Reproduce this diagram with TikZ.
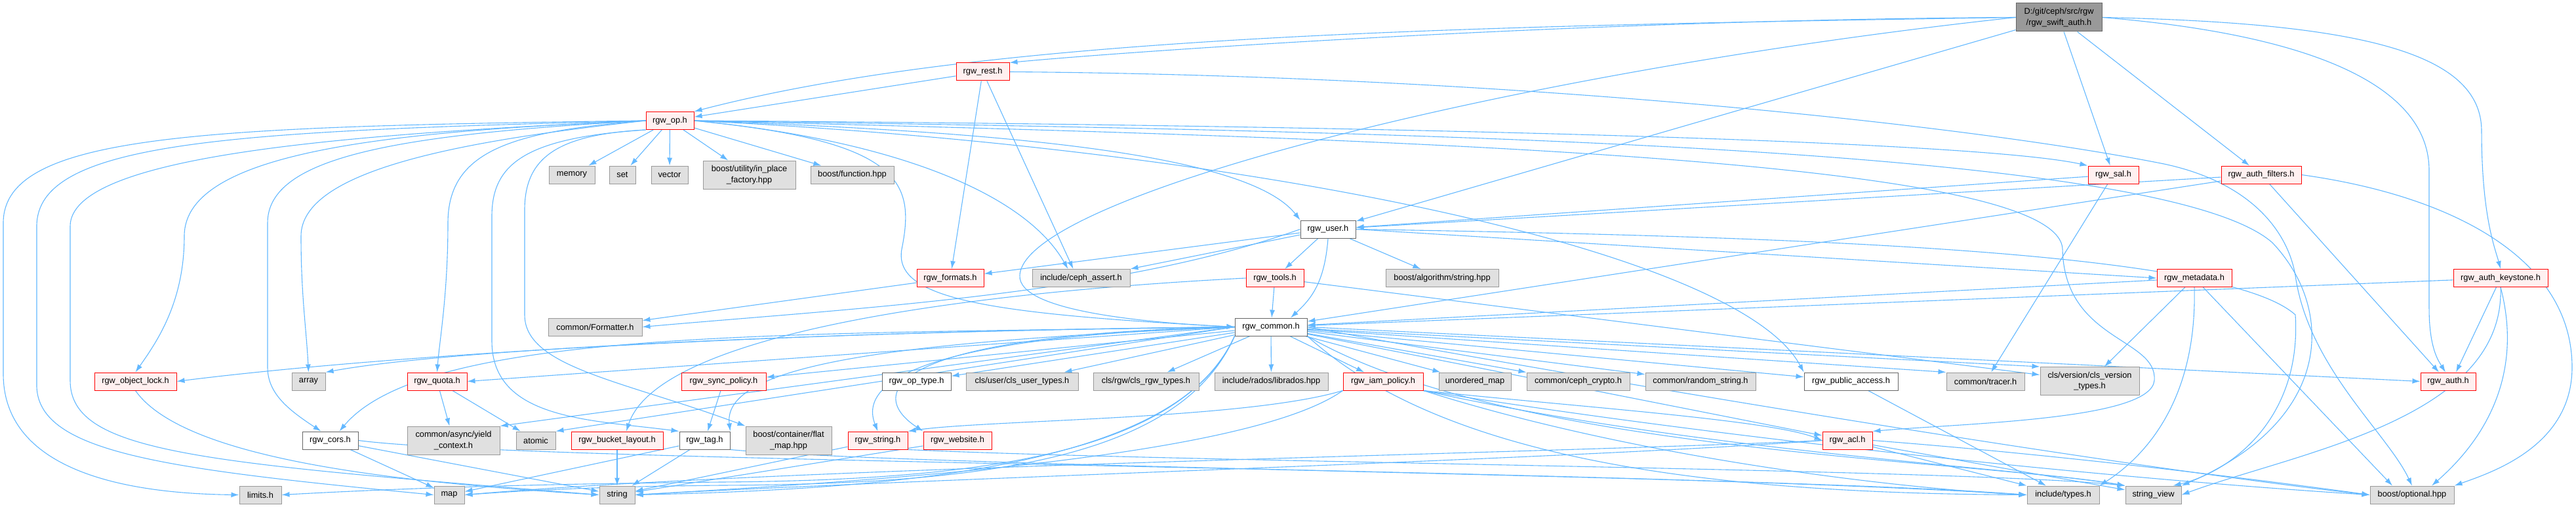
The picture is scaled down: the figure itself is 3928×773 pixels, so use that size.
\documentclass[tikz,border=0pt]{standalone}
\usepackage{fontspec}
\setmainfont{Liberation Sans}
\usepackage{tikz}
\usetikzlibrary{arrows.meta}
\definecolor{depline}{HTML}{63B8FF}
\definecolor{truncfill}{HTML}{FFF0F0}
\definecolor{sysfill}{HTML}{E0E0E0}
\definecolor{sysline}{HTML}{999999}
\definecolor{plainline}{HTML}{666666}
\definecolor{rootfill}{HTML}{999999}
\pgfdeclarelayer{bg}
\pgfsetlayers{bg,main}
\tikzset{
  hdr/.style={rectangle, line width=1pt, align=center, inner sep=0pt,
              font=\fontsize{12.8}{16.5}\selectfont, minimum height=27pt, minimum width=#1},
  redhdr/.style={hdr=#1, draw=red, fill=truncfill},
  sysinc/.style={hdr=#1, draw=sysline, fill=sysfill},
  plainhdr/.style={hdr=#1, draw=plainline, fill=white},
  roothdr/.style={hdr=#1, draw=plainline, fill=rootfill},
  twoline/.style={minimum height=43pt},
  dep/.style={-{Latex[length=12pt,width=8pt]}, draw=depline, line width=1.1pt},
}

\begin{document}
\begin{tikzpicture}[x=1pt,y=-1pt]
\useasboundingbox (0,0) rectangle (3928,773);
% top of the graph
\node[roothdr=131pt, twoline] (swift) at (3139.5,26.5) {D:/git/ceph/src/rgw\\/rgw\_swift\_auth.h};
\node[redhdr=81pt] (rest) at (1498.5,109.5) {rgw\_rest.h};
\node[redhdr=73pt] (op) at (1021.5,184) {rgw\_op.h};
\node[sysinc=70pt] (memory) at (872,266.5) {memory};
\node[sysinc=40pt] (set) at (949,266.5) {set};
\node[sysinc=56pt] (vector) at (1021,266.5) {vector};
\node[sysinc=141pt, twoline] (inplace) at (1142.5,266.5) {boost/utility/in\_place\\\_factory.hpp};
\node[sysinc=127pt] (function) at (1299.5,266.5) {boost/function.hpp};
\node[redhdr=77pt] (sal) at (3222.5,266.5) {rgw\_sal.h};
\node[redhdr=122pt] (filters) at (3448,266.5) {rgw\_auth\_filters.h};
\node[plainhdr=84pt] (user) at (2025,349.5) {rgw\_user.h};
\node[redhdr=102pt] (formats) at (1449,424) {rgw\_formats.h};
\node[sysinc=149pt] (assert) at (1648.5,424) {include/ceph\_assert.h};
\node[redhdr=88pt] (tools) at (1944,424) {rgw\_tools.h};
\node[sysinc=172pt] (algostr) at (2199,424) {boost/algorithm/string.hpp};
\node[redhdr=114pt] (metadata) at (3346,424) {rgw\_metadata.h};
\node[redhdr=144pt] (keystone) at (3813,424) {rgw\_auth\_keystone.h};
\node[sysinc=143pt] (formatter) at (907.5,498.5) {common/Formatter.h};
\node[plainhdr=110pt] (common) at (1938,498.5) {rgw\_common.h};
% middle row
\node[redhdr=125pt] (objlock) at (206.5,581.5) {rgw\_object\_lock.h};
\node[sysinc=51pt] (array) at (470.5,581.5) {array};
\node[redhdr=91pt] (quota) at (666.5,581.5) {rgw\_quota.h};
\node[redhdr=129pt] (syncpol) at (1103.5,581.5) {rgw\_sync\_policy.h};
\node[plainhdr=105pt] (optype) at (1397.5,581.5) {rgw\_op\_type.h};
\node[sysinc=171pt] (clsuser) at (1558.5,581.5) {cls/user/cls\_user\_types.h};
\node[sysinc=161pt] (clsrgw) at (1747.5,581.5) {cls/rgw/cls\_rgw\_types.h};
\node[sysinc=173pt] (librados) at (1938.5,581.5) {include/rados/librados.hpp};
\node[redhdr=122pt] (iam) at (2109,581.5) {rgw\_iam\_policy.h};
\node[sysinc=110pt] (unmap) at (2249,581.5) {unordered\_map};
\node[sysinc=157pt] (crypto) at (2406.5,581.5) {common/ceph\_crypto.h};
\node[sysinc=168pt] (randstr) at (2593,581.5) {common/random\_string.h};
\node[plainhdr=143pt] (pubacc) at (2822.5,581.5) {rgw\_public\_access.h};
\node[sysinc=119pt] (tracer) at (3027.5,581.5) {common/tracer.h};
\node[sysinc=151pt, twoline] (clsver) at (3186.5,581) {cls/version/cls\_version\\\_types.h};
\node[redhdr=84pt] (auth) at (3733,581.5) {rgw\_auth.h};
\node[plainhdr=85pt] (cors) at (503.5,671.5) {rgw\_cors.h};
\node[sysinc=141pt, twoline] (yield) at (691.5,671.5) {common/async/yield\\\_context.h};
\node[sysinc=60pt] (atomic) at (817,671.5) {atomic};
\node[redhdr=140pt] (layout) at (941,671.5) {rgw\_bucket\_layout.h};
\node[plainhdr=77pt] (tag) at (1074.5,671.5) {rgw\_tag.h};
\node[sysinc=131pt, twoline] (flatmap) at (1202.5,671.5) {boost/container/flat\\\_map.hpp};
\node[redhdr=91pt] (rgwstr) at (1338.5,671.5) {rgw\_string.h};
\node[redhdr=104pt] (website) at (1460,671.5) {rgw\_website.h};
\node[redhdr=76pt] (acl) at (2817,671.5) {rgw\_acl.h};
% bottom row
\node[sysinc=64pt] (limits) at (397,754.5) {limits.h};
\node[sysinc=46pt] (stdmap) at (685,754.5) {map};
\node[sysinc=54pt] (stdstring) at (941,754.5) {string};
\node[sysinc=110pt] (types) at (3146,754.5) {include/types.h};
\node[sysinc=85pt] (strview) at (3283.5,754.5) {string\_view};
\node[sysinc=128pt] (optional) at (3678,754.5) {boost/optional.hpp};

\begin{pgfonlayer}{bg}
% rgw_swift_auth.h
\draw[dep] (swift.west) .. controls (2400,30) and (1700,80) .. (rest.north east);
\draw[dep] (swift.west) .. controls (2200,40) and (1500,55) .. (op.north east);
\draw[dep] (swift.west) .. controls (2300,110) and (1560,300) .. (1555,420) .. controls (1552,475) and (1750,492) .. (common.west);
\draw[dep] (swift) -- (user);
\draw[dep] (swift) -- (sal);
\draw[dep] (swift) -- (filters);
\draw[dep] (swift.east) .. controls (3600,35) and (3784,80) .. (3784,200) .. controls (3784,330) and (3805,380) .. (keystone.north);
\draw[dep] (swift.east) .. controls (3550,55) and (3704,140) .. (3704,260) -- (3704,470) .. controls (3704,530) and (3718,550) .. ([xshift=-4pt]auth.north);
% rgw_rest.h
\draw[dep] (rest) -- (op);
\draw[dep] (rest) -- (formats);
\draw[dep] (rest) -- ([xshift=-12pt]assert.north);
\draw[dep] (rest.east) .. controls (2300,115) and (3000,190) .. (3300,250) .. controls (3440,280) and (3490,360) .. (3500,420) .. controls (3520,560) and (3640,660) .. (optional.north);
% rgw_op.h
\draw[dep] (op.west) .. controls (300,193) and (5,205) .. (5,340) -- (5,570) .. controls (5,700) and (150,752) .. (limits.west);
\draw[dep] (op.west) .. controls (350,200) and (56,215) .. (56,345) -- (56,590) .. controls (60,690) and (250,715) .. (stdmap.west);
\draw[dep] (op.west) .. controls (500,205) and (107,240) .. (107,345) -- (107,580) .. controls (107,690) and (300,705) .. (stdstring.west);
\draw[dep] (op.west) .. controls (600,200) and (281,230) .. (281,360) .. controls (281,460) and (240,520) .. (objlock.north);
\draw[dep] (op.west) .. controls (600,205) and (408,240) .. (408,340) -- (408,560) .. controls (408,600) and (440,625) .. ([xshift=-14pt]cors.north);
\draw[dep] (op.west) .. controls (700,215) and (459,260) .. (459,360) .. controls (459,450) and (467,500) .. (array.north);
\draw[dep] (op.west) .. controls (780,200) and (683,230) .. (683,340) .. controls (683,450) and (670,520) .. (quota.north);
\draw[dep] (op.south west) .. controls (800,210) and (750,250) .. (750,330) -- (750,520) .. controls (750,640) and (900,640) .. (tag.north west);
\draw[dep] (op.south west) .. controls (850,205) and (800,240) .. (800,320) -- (800,480) .. controls (800,560) and (950,580) .. (flatmap.north west);
\draw[dep] (op) -- (memory);
\draw[dep] (op) -- (set);
\draw[dep] (op) -- (vector);
\draw[dep] (op) -- (inplace);
\draw[dep] (op) -- (function);
\draw[dep] (op.east) .. controls (1350,212) and (1560,290) .. ([xshift=-20pt]assert.north);
\draw[dep] (op.east) .. controls (1380,215) and (1395,280) .. (1375,380) .. controls (1362,455) and (1500,478) .. (common.west);
\draw[dep] (op.east) .. controls (1500,200) and (1900,230) .. (user.north west);
\draw[dep] (op.east) .. controls (2000,190) and (3000,212) .. (sal.north west);
\draw[dep] (op.east) .. controls (2200,212) and (3140,245) .. (3145,380) .. controls (3148,520) and (3290,515) .. (3285,580) .. controls (3280,640) and (3000,645) .. (acl.north east);
\draw[dep] (op.east) .. controls (1900,225) and (2650,380) .. (pubacc.north west);
\draw[dep] (op.east) .. controls (2200,200) and (3300,225) .. (3465,370) .. controls (3560,470) and (3560,640) .. (strview.north east);
% rgw_user.h
\draw[dep] (user) -- (formats);
\draw[dep] (user) -- (assert.north east);
\draw[dep] (user) -- (tools);
\draw[dep] (user) -- (algostr);
\draw[dep] (user.east) -- (metadata.west);
\draw[dep] (user.south) .. controls (2020,430) and (2000,455) .. ([xshift=30pt]common.north);
\draw[dep] (user.west) .. controls (1700,450) and (1300,470) .. (formatter.east);
\draw[dep] (user.east) .. controls (2700,360) and (3390,380) .. (3500,480) .. controls (3510,640) and (3400,720) .. ([xshift=30pt]strview.north);
% rgw_sal.h, rgw_auth_filters.h, rgw_auth_keystone.h
\draw[dep] (sal) -- (user);
\draw[dep] (sal) -- (tracer);
\draw[dep] (filters) -- (user);
\draw[dep] (filters) -- (common);
\draw[dep] (filters) -- ([xshift=-14pt]auth.north);
\draw[dep] (filters.east) .. controls (3750,300) and (3922,400) .. (3922,560) .. controls (3922,680) and (3800,720) .. (optional.north east);
\draw[dep] (keystone) -- (common);
\draw[dep] (keystone) -- ([xshift=12pt]auth.north);
\draw[dep] (keystone.south) .. controls (3845,560) and (3800,660) .. ([xshift=30pt]optional.north);
\draw[dep] (keystone.south) .. controls (3820,640) and (3500,690) .. (strview.east);
% rgw_metadata.h, rgw_tools.h, rgw_formats.h
\draw[dep] (metadata) -- (common);
\draw[dep] (metadata) -- (clsver);
\draw[dep] (metadata.south) .. controls (3350,600) and (3280,690) .. (types.north east);
\draw[dep] (metadata) -- ([xshift=-30pt]optional.north);
\draw[dep] (tools) -- (common);
\draw[dep] (tools.west) .. controls (1400,450) and (1000,520) .. ([xshift=14pt]layout.north);
\draw[dep] (tools) -- (clsver);
\draw[dep] (formats) -- (formatter);
% rgw_common.h
\draw[dep] (common.west) .. controls (1200,505) and (600,540) .. (objlock.east);
\draw[dep] (common.west) .. controls (1300,505) and (700,530) .. (array.north east);
\draw[dep] (common.west) .. controls (1200,510) and (650,500) .. ([xshift=14pt]cors.north);
\draw[dep] (common.west) -- (quota.east);
\draw[dep] (common.west) -- (yield.north east);
\draw[dep] (common.west) -- (atomic.north east);
\draw[dep] (common) -- (syncpol);
\draw[dep] (common.west) .. controls (1400,520) and (1100,550) .. (tag.north east);
\draw[dep] (common.west) .. controls (1500,510) and (1300,560) .. (rgwstr.north);
\draw[dep] (common.west) .. controls (1350,510) and (1320,600) .. (website.north west);
\draw[dep] (common) -- (optype);
\draw[dep] (common) -- (clsuser);
\draw[dep] (common) -- (clsrgw);
\draw[dep] (common) -- (librados);
\draw[dep] (common) -- (iam);
\draw[dep] (common) -- (unmap);
\draw[dep] (common) -- (crypto);
\draw[dep] (common) -- (randstr);
\draw[dep] (common) -- (pubacc);
\draw[dep] (common) -- (tracer.north west);
\draw[dep] (common) -- (clsver.north west);
\draw[dep] (common.east) -- (auth.west);
\draw[dep] (common) -- (acl);
\draw[dep] (common.south west) .. controls (1800,690) and (1500,732) .. (1100,735) .. controls (800,738) and (600,745) .. (limits.east);
\draw[dep] (common.south west) .. controls (1800,700) and (1500,738) .. (1100,740) .. controls (900,742) and (800,748) .. (stdmap.east);
\draw[dep] (common.south west) .. controls (1800,705) and (1400,745) .. (stdstring.east);
\draw[dep] (common.south east) .. controls (2200,700) and (2600,752) .. (types.west);
\draw[dep] (common.south east) .. controls (2300,690) and (3000,700) .. (strview.north west);
\draw[dep] (common.east) .. controls (2600,610) and (3300,720) .. (optional.west);
% rgw_iam_policy.h
\draw[dep] (iam.south west) .. controls (1900,640) and (1500,640) .. (rgwstr.north east);
\draw[dep] (iam.south west) .. controls (1900,700) and (1300,735) .. (stdstring.east);
\draw[dep] (iam.south east) .. controls (2400,620) and (2700,640) .. (acl.west);
\draw[dep] (iam.south east) .. controls (2500,700) and (2900,745) .. (types.west);
\draw[dep] (iam.south east) .. controls (2600,690) and (3100,715) .. (strview.north west);
\draw[dep] (iam.south east) .. controls (2700,680) and (3300,735) .. (optional.west);
% lower headers
\draw[dep] (syncpol) -- (tag);
\draw[dep] (quota) -- (yield);
\draw[dep] (quota) -- (atomic);
\draw[dep] (objlock.south) .. controls (280,700) and (600,735) .. (stdstring.west);
\draw[dep] (cors) -- (stdmap);
\draw[dep] (cors) -- (stdstring);
\draw[dep] (cors.east) .. controls (800,705) and (2400,712) .. (types.west);
\draw[dep] (layout) -- (stdstring);
\draw[dep] (tag) -- (stdmap);
\draw[dep] (tag) -- (stdstring);
\draw[dep] (tag.south east) .. controls (1400,712) and (2700,725) .. (types.west);
\draw[dep] (rgwstr) -- (stdstring);
\draw[dep] (rgwstr.south east) .. controls (1800,705) and (3000,715) .. (strview.north west);
\draw[dep] (website) -- (stdstring);
\draw[dep] (acl.west) .. controls (2400,690) and (1200,712) .. (stdmap.east);
\draw[dep] (acl.west) .. controls (2400,700) and (1400,730) .. (stdstring.east);
\draw[dep] (acl) -- (types);
\draw[dep] (acl) -- (strview);
\draw[dep] (acl.east) .. controls (3100,690) and (3400,725) .. (optional.west);
\draw[dep] (pubacc) -- (types);
\end{pgfonlayer}
\end{tikzpicture}
\end{document}
